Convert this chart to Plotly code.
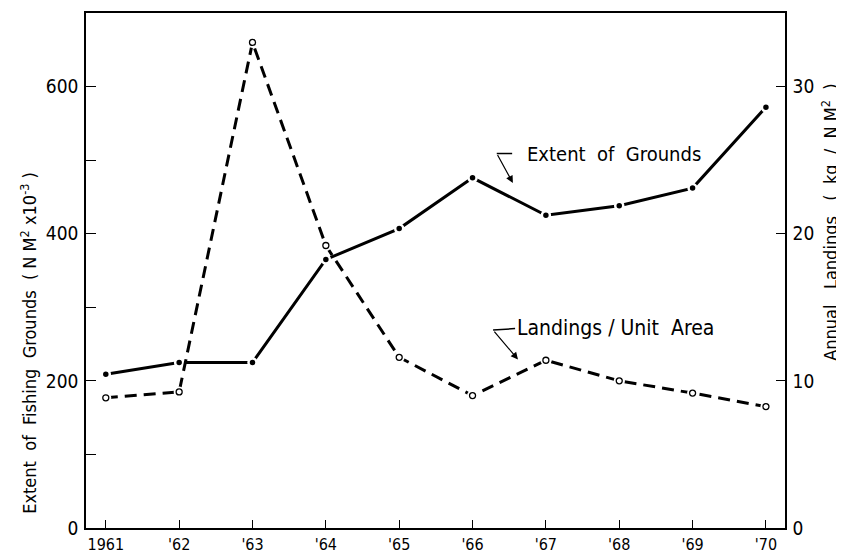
import plotly.graph_objects as go

years = [1961, 1962, 1963, 1964, 1965, 1966, 1967, 1968, 1969, 1970]
year_labels = ["1961", "'62", "'63", "'64", "'65", "'66", "'67", "'68", "'69", "'70"]

# extent of fishing grounds (NM^2 x 10^-3), left axis
extent = [209, 225, 225, 365, 407, 476, 425, 438, 462, 572]
# annual landings per unit area (kg / NM^2), right axis
landings = [8.85, 9.25, 33.0, 19.2, 11.6, 9.0, 11.4, 10.0, 9.17, 8.25]

FONT = "DejaVu Sans Condensed, Liberation Sans Narrow, DejaVu Sans, sans-serif"
NB = "\u00a0"

fig = go.Figure()

# solid line + filled dots (white halo gives the small gap seen in the print)
fig.add_trace(go.Scatter(
    x=years, y=extent, mode="lines",
    line=dict(color="black", width=3),
    showlegend=False, yaxis="y",
))
fig.add_trace(go.Scatter(
    x=years, y=extent, mode="markers",
    marker=dict(size=8, color="black", line=dict(color="white", width=2.5)),
    showlegend=False, yaxis="y",
))

# dashed line + open circles
fig.add_trace(go.Scatter(
    x=years, y=landings, mode="lines",
    line=dict(color="black", width=3, dash="12px,7px"),
    showlegend=False, yaxis="y2",
))
fig.add_trace(go.Scatter(
    x=years, y=landings, mode="markers",
    marker=dict(size=11, color="white", line=dict(width=0)),
    showlegend=False, yaxis="y2",
))
fig.add_trace(go.Scatter(
    x=years, y=landings, mode="markers",
    marker=dict(size=6, color="white", line=dict(color="black", width=1.3)),
    showlegend=False, yaxis="y2",
))

sp2 = NB * 2
sp3 = NB * 3
left_title = sp2.join(["Extent", "of", "Fishing", "Grounds"]) + sp2 + \
    "(" + NB + "N" + NB + "M<sup>2</sup>" + NB + "x10<sup>-3</sup>" + NB + ")"
right_title = sp3.join(["Annual", "Landings"]) + sp3 + \
    "(" + sp2 + "kg" + sp2 + "/" + sp2 + "N" + NB + "M<sup>2</sup>" + sp2 + ")"

# the page body adds an 8px offset, so margins are shifted to compensate
fig.update_layout(
    width=844, height=555,
    margin=dict(l=78, r=67, t=5, b=35),
    paper_bgcolor="white", plot_bgcolor="white",
    font=dict(family=FONT, color="black", size=15),
    xaxis=dict(
        range=[1960.73, 1970.26],
        tickvals=years, ticktext=year_labels,
        ticks="inside", ticklen=8, tickwidth=1, tickcolor="black",
        showline=True, linecolor="black", linewidth=1.5, mirror=True,
        showgrid=False, zeroline=False, automargin=False,
        tickfont=dict(size=16), ticklabelstandoff=1,
    ),
    yaxis=dict(
        range=[0, 700],
        tickvals=[0, 200, 400, 600],
        ticks="inside", ticklen=10, tickwidth=1, tickcolor="black",
        minor=dict(tickvals=[100, 300, 500], ticks="inside", ticklen=10,
                   tickcolor="black", tickwidth=1),
        showline=True, linecolor="black", linewidth=1.5,
        showgrid=False, zeroline=False, automargin=False,
        tickfont=dict(size=19), ticklabelstandoff=2,
    ),
    yaxis2=dict(
        range=[0, 35], overlaying="y", side="right",
        tickvals=[0, 10, 20, 30],
        ticks="inside", ticklen=9, tickwidth=1, tickcolor="black",
        showline=True, linecolor="black", linewidth=1.5,
        showgrid=False, zeroline=False, automargin=False,
        tickfont=dict(size=19), ticklabelstandoff=2,
    ),
)

# axis titles placed as rotated annotations
fig.add_annotation(xref="paper", yref="paper", x=-0.082, y=0.359,
                   text=left_title, textangle=-90, showarrow=False,
                   xanchor="center", yanchor="middle", font=dict(size=18))
fig.add_annotation(xref="paper", yref="paper", x=1.064, y=0.594,
                   text=right_title, textangle=-90, showarrow=False,
                   xanchor="center", yanchor="middle", font=dict(size=18))

# bent pointer arrows for the two labels
fig.add_annotation(x=1966.55, y=469, ax=1966.33, ay=509, axref="x", ayref="y",
                   text="", showarrow=True, arrowhead=2, arrowsize=1.2,
                   arrowwidth=1.2, arrowcolor="black")
fig.add_shape(type="line", x0=1966.33, y0=509, x1=1966.54, y1=509,
              line=dict(color="black", width=1.5))
fig.add_annotation(x=1966.71, y=508, text=sp2.join(["Extent", "of", "Grounds"]),
                   showarrow=False, xanchor="left", yanchor="middle",
                   font=dict(size=20))

fig.add_annotation(x=1966.62, y=229, ax=1966.28, ay=269, axref="x", ayref="y",
                   text="", showarrow=True, arrowhead=2, arrowsize=1.2,
                   arrowwidth=1.2, arrowcolor="black")
fig.add_shape(type="line", x0=1966.28, y0=269, x1=1966.58, y1=271,
              line=dict(color="black", width=1.5))
fig.add_annotation(x=1966.58, y=272,
                   text=NB.join(["Landings", "/", "Unit", NB + "Area"]),
                   showarrow=False, xanchor="left", yanchor="middle",
                   font=dict(size=21))

fig.write_html("out.html")
